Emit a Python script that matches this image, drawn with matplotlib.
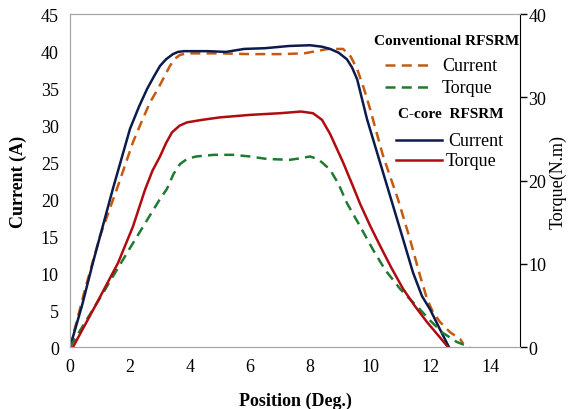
import numpy as np
import matplotlib
matplotlib.use("Agg")
import matplotlib.pyplot as plt

plt.rcParams['font.family'] = ['Liberation Serif', 'DejaVu Serif']

# conventional RFSRM current (A)
conv_cur_x = [0, 0.5, 1.0, 1.6, 2.1, 2.4, 2.67, 2.93, 3.15, 3.33, 3.5, 3.67, 3.9, 4.2, 5.0, 6.0, 7.0, 7.8, 8.2,
              8.6, 9.1, 9.35, 9.57, 9.8, 10.0, 10.43, 10.93, 11.33, 11.67, 11.9, 12.1, 12.33, 12.67, 13.0, 13.1]
conv_cur_y = [0, 7.8, 15.0, 21.8, 27.7, 30.6, 33.1, 34.9, 36.6, 38.0, 39.0, 39.5, 39.7, 39.7, 39.7, 39.6, 39.6,
              39.7, 40.0, 40.3, 40.3, 39.3, 37.6, 34.9, 32.2, 25.9, 20.0, 14.6, 9.6, 6.5, 4.7, 3.4, 2.0, 1.1, 0.5]

# C-core RFSRM current (A)
cc_cur_x = [0, 0.4, 0.77, 1.43, 2.0, 2.3, 2.57, 2.8, 3.0, 3.2, 3.43, 3.6, 3.8, 4.0, 4.6, 5.2, 5.8, 6.5, 7.3,
            8.0, 8.4, 8.67, 8.95, 9.23, 9.4, 9.57, 9.9, 10.33, 10.73, 11.1, 11.43, 11.73, 12.0, 12.33, 12.63]
cc_cur_y = [0, 5.6, 11.5, 21.4, 29.5, 32.5, 34.9, 36.6, 38.0, 38.9, 39.6, 39.9, 40.0, 40.0, 40.0, 39.9, 40.3,
            40.4, 40.7, 40.8, 40.6, 40.3, 39.8, 38.9, 37.8, 36.2, 30.8, 25.0, 19.6, 14.6, 10.1, 6.9, 5.1, 2.4, 0]

# conventional RFSRM torque (N.m)
conv_tq_x = [0, 1.0, 2.0, 3.0, 3.23, 3.45, 3.67, 3.9, 4.2, 4.8, 5.43, 6.0, 6.57, 7.33, 7.7, 8.0, 8.25, 8.43,
             8.67, 8.95, 9.23, 9.67, 10.1, 10.5, 11.0, 11.67, 12.0, 12.43, 12.9, 13.33]
conv_tq_y = [0, 5.9, 11.9, 17.8, 19.0, 20.8, 22.0, 22.6, 22.9, 23.1, 23.1, 22.9, 22.6, 22.5, 22.7, 22.9, 22.6,
             22.1, 21.3, 19.6, 17.3, 14.5, 11.7, 9.3, 7.0, 4.5, 3.2, 1.7, 0.6, 0]

# C-core RFSRM torque (N.m)
cc_tq_x = [0.1, 0.85, 1.6, 2.1, 2.5, 2.75, 3.0, 3.2, 3.4, 3.65, 3.9, 4.4, 5.0, 6.0, 7.0, 7.7, 8.1, 8.4, 8.67,
           9.1, 9.4, 9.67, 10.0, 10.33, 10.7, 11.1, 11.5, 11.9, 12.25, 12.6]
cc_tq_y = [0, 5.0, 10.1, 14.5, 18.9, 21.2, 22.9, 24.5, 25.8, 26.6, 27.0, 27.3, 27.6, 27.9, 28.1, 28.3, 28.1,
           27.3, 25.6, 22.2, 19.6, 17.2, 14.6, 12.2, 9.6, 7.0, 4.9, 3.0, 1.5, 0]

c_orange = '#C55A11'
c_green = '#1E7B30'
c_navy = '#0D1B4C'
c_red = '#B00B10'

fig = plt.figure(figsize=(5.69, 4.10), dpi=100)
ax = fig.add_axes([0.123, 0.151, 0.791, 0.812])
ax2 = ax.twinx()

ax.plot(conv_cur_x, conv_cur_y, color=c_orange, lw=1.8, ls=(0, (4, 2.5)))
ax.plot(cc_cur_x, cc_cur_y, color=c_navy, lw=1.8)
ax2.plot(conv_tq_x, conv_tq_y, color=c_green, lw=1.8, ls=(0, (4, 2.5)))
ax2.plot(cc_tq_x, cc_tq_y, color=c_red, lw=1.8)

ax.set_xlim(0, 15)
ax.set_ylim(0, 45)
ax2.set_ylim(0, 40)
ax.set_xticks(np.arange(0, 15, 2))
ax.set_yticks(np.arange(0, 46, 5))
ax2.set_yticks(np.arange(0, 41, 10))

ax.tick_params(axis='both', length=0, labelsize=13, pad=8)
ax2.tick_params(axis='y', length=5, width=1, labelsize=13, pad=1, direction='out')

for s in ['left', 'bottom', 'top']:
    ax.spines[s].set_color('#A6A6A6')
    ax2.spines[s].set_color('#A6A6A6')
ax2.spines['right'].set_color('black')
ax.spines['right'].set_visible(False)

ax.set_xlabel('Position (Deg.)', fontsize=13, fontweight='bold', labelpad=12)
ax.set_ylabel('Current (A)', fontsize=13, fontweight='bold', labelpad=10)
ax2.set_ylabel('Torque(N.m)', fontsize=13, labelpad=2)

# hand-made legend in axes coordinates
tr = ax.transAxes
def ax_x(px):
    return (px - 70) / 450.0
def ax_y(py):
    return (348 - py) / 333.0

ax.text(ax_x(519), ax_y(41), 'Conventional RFSRM', transform=tr, ha='right', va='center',
        fontsize=11, fontweight='bold')
ax.text(ax_x(504), ax_y(114), 'C-core  RFSRM', transform=tr, ha='right', va='center',
        fontsize=11, fontweight='bold')
legend_rows = [
    (385, 432, 442, 66, c_orange, (0, (4, 2.5)), 'Current'),
    (385, 432, 442, 88, c_green, (0, (4, 2.5)), 'Torque'),
    (396, 442, 448, 141, c_navy, '-', 'Current'),
    (396, 442, 446, 161, c_red, '-', 'Torque'),
]
for x0, x1, xt, y, col, ls, lab in legend_rows:
    ax.plot([ax_x(x0), ax_x(x1)], [ax_y(y), ax_y(y)], transform=tr, color=col, lw=1.8, ls=ls, clip_on=False)
    ax.text(ax_x(xt), ax_y(y), lab, transform=tr, ha='left', va='center', fontsize=13)

plt.savefig('out.png', dpi=100)
